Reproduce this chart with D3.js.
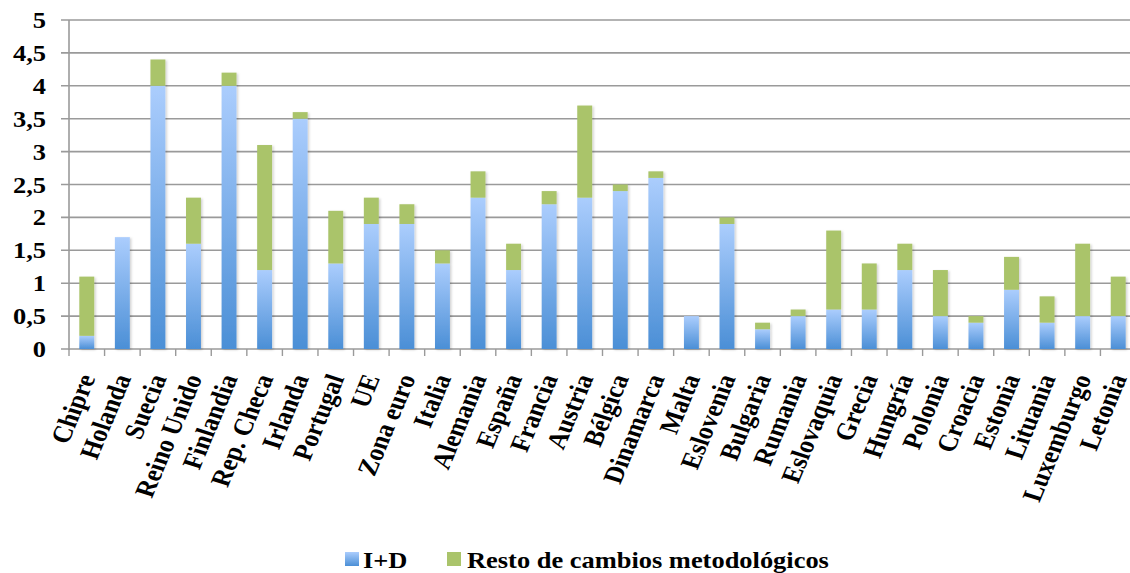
<!DOCTYPE html>
<html><head><meta charset="utf-8">
<script src="https://cdn.jsdelivr.net/npm/d3@7"></script>
<style>
body{margin:0;background:#fff;}
svg{display:block;}
</style></head>
<body>
<script>
const categories = ["Chipre","Holanda","Suecia","Reino Unido","Finlandia","Rep. Checa","Irlanda","Portugal","UE","Zona euro","Italia","Alemania","España","Francia","Austria","Bélgica","Dinamarca","Malta","Eslovenia","Bulgaria","Rumania","Eslovaquia","Grecia","Hungría","Polonia","Croacia","Estonia","Lituania","Luxemburgo","Letonia"];
const idValues   = [0.2,1.7,4.0,1.6,4.0,1.2,3.5,1.3,1.9,1.9,1.3,2.3,1.2,2.2,2.3,2.4,2.6,0.5,1.9,0.3,0.5,0.6,0.6,1.2,0.5,0.4,0.9,0.4,0.5,0.5];
const restValues = [0.9,0.0,0.4,0.7,0.2,1.9,0.1,0.8,0.4,0.3,0.2,0.4,0.4,0.2,1.4,0.1,0.1,0.0,0.1,0.1,0.1,1.2,0.7,0.4,0.7,0.1,0.5,0.4,1.1,0.6];
const yTicks = [0,0.5,1,1.5,2,2.5,3,3.5,4,4.5,5];
const seriesNames = ["I+D","Resto de cambios metodológicos"];

const FONT = "'Liberation Serif', Tinos, 'Times New Roman', Times, 'DejaVu Serif', serif";
const SX = 1.15; // horizontal stretch seen in the reference text
const W = 1130, H = 573;
const svg = d3.select("body").append("svg").attr("width", W).attr("height", H)
  .attr("font-family", FONT).attr("font-weight", "bold");

const defs = svg.append("defs");
const g1 = defs.append("linearGradient").attr("id","blueGrad").attr("x1",0).attr("y1",0).attr("x2",0).attr("y2",1);
g1.append("stop").attr("offset","0%").attr("stop-color","#abcdfd");
g1.append("stop").attr("offset","100%").attr("stop-color","#4b8fd6");
const f = defs.append("filter").attr("id","shadow").attr("x","-30%").attr("y","-10%").attr("width","160%").attr("height","120%");
f.append("feDropShadow").attr("dx",1.5).attr("dy",1).attr("stdDeviation",1.2).attr("flood-color","#000").attr("flood-opacity",0.18);

const x = d3.scaleBand().domain(categories).range([69, 1136]).paddingInner(0.58).paddingOuter(0.29);
const y = d3.scaleLinear().domain([0,5]).range([349, 20]);

// gridlines
svg.append("g").selectAll("line").data(yTicks).join("line")
  .attr("x1", 61).attr("x2", W).attr("y1", d=>y(d)).attr("y2", d=>y(d))
  .attr("stroke","#9a9a9a").attr("stroke-width",1.6);

// y axis line
svg.append("line").attr("x1",69).attr("x2",69).attr("y1",y(5)).attr("y2",y(0)+1)
  .attr("stroke","#9a9a9a").attr("stroke-width",1.6);

// x ticks at category boundaries
const step = x.step();
const bounds = d3.range(categories.length+1).map(i => 69 + i*step);
svg.append("g").selectAll("line").data(bounds).join("line")
  .attr("x1", d=>d).attr("x2", d=>d).attr("y1", y(0)).attr("y2", y(0)+7)
  .attr("stroke","#9a9a9a").attr("stroke-width",1.4);

// y tick labels
svg.append("g").selectAll("text").data(yTicks).join("text")
  .attr("transform", d => `translate(46,${y(d)}) scale(${SX},1)`)
  .attr("dy","0.35em")
  .attr("text-anchor","end").attr("font-size",23).attr("fill","#000")
  .text(d => String(d).replace(".", ","));

// bars
const data = categories.map((c,i)=>({c, a: idValues[i], b: restValues[i]}));
const bars = svg.append("g").attr("filter","url(#shadow)");
bars.selectAll("rect.id").data(data).join("rect").attr("class","id")
  .attr("x", d=>x(d.c)).attr("width", x.bandwidth())
  .attr("y", d=>y(d.a)).attr("height", d=>y(0)-y(d.a))
  .attr("fill","url(#blueGrad)");
bars.selectAll("rect.rest").data(data.filter(d=>d.b>0)).join("rect").attr("class","rest")
  .attr("x", d=>x(d.c)).attr("width", x.bandwidth())
  .attr("y", d=>y(d.a+d.b)).attr("height", d=>y(d.a)-y(d.a+d.b))
  .attr("fill","#aac46b");

// x labels
svg.append("g").selectAll("text").data(categories).join("text")
  .attr("transform", d => `translate(${x(d)+x.bandwidth()/2+9},${y(0)+29}) scale(${SX},1) rotate(-70)`)
  .attr("text-anchor","end").attr("font-size",24).attr("fill","#000")
  .text(d=>d);

// legend
const leg = svg.append("g");
leg.append("rect").attr("x",345).attr("y",552).attr("width",14).attr("height",14).attr("fill","url(#blueGrad)");
leg.append("text").attr("transform",`translate(363,568) scale(${SX},1)`).attr("font-size",23).attr("fill","#000").text(seriesNames[0]);
leg.append("rect").attr("x",447).attr("y",552).attr("width",14).attr("height",14).attr("fill","#aac46b");
leg.append("text").attr("transform",`translate(467,568) scale(${SX},1)`).attr("font-size",23).attr("fill","#000").text(seriesNames[1]);
</script>
</body></html>
